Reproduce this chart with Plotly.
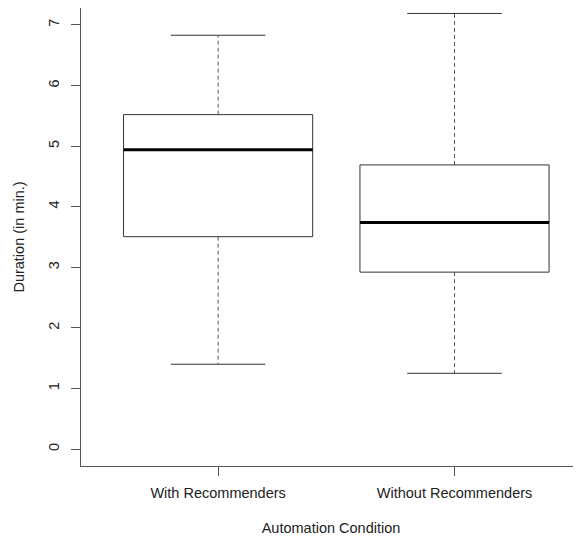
import plotly.graph_objects as go

categories = ["With Recommenders", "Without Recommenders"]
lower_whisker = [1.40, 1.25]
q1 = [3.505, 2.92]
median = [4.94, 3.74]
q3 = [5.52, 4.69]
upper_whisker = [6.83, 7.19]
y_ticks = [0, 1, 2, 3, 4, 5, 6, 7]

BOX_HALF = 0.4
CAP_HALF = 0.2
LINE = "#333333"

fig = go.Figure()
for i, cat in enumerate(categories):
    # whiskers (dashed)
    fig.add_trace(go.Scatter(x=[i, i], y=[q3[i], upper_whisker[i]], mode="lines",
                             line=dict(color="#555555", width=1, dash="4px,3px"),
                             hoverinfo="skip", showlegend=False))
    fig.add_trace(go.Scatter(x=[i, i], y=[q1[i], lower_whisker[i]], mode="lines",
                             line=dict(color="#555555", width=1, dash="4px,3px"),
                             hoverinfo="skip", showlegend=False))
    # caps
    for v in (upper_whisker[i], lower_whisker[i]):
        fig.add_trace(go.Scatter(x=[i - CAP_HALF, i + CAP_HALF], y=[v, v], mode="lines",
                                 line=dict(color=LINE, width=1),
                                 hoverinfo="skip", showlegend=False))
    # box
    fig.add_trace(go.Scatter(
        x=[i - BOX_HALF, i + BOX_HALF, i + BOX_HALF, i - BOX_HALF, i - BOX_HALF],
        y=[q1[i], q1[i], q3[i], q3[i], q1[i]], mode="lines",
        line=dict(color=LINE, width=1), fill="toself", fillcolor="white",
        name=cat, showlegend=False))
    # median
    fig.add_trace(go.Scatter(x=[i - BOX_HALF, i + BOX_HALF], y=[median[i], median[i]],
                             mode="lines", line=dict(color="black", width=3),
                             hoverinfo="skip", showlegend=False))

FAM = "Liberation Sans, Arial, sans-serif"
font = dict(family=FAM, size=14.5, color="#222222")

fig.update_layout(
    width=573, height=530,
    margin=dict(l=73, r=0, t=0, b=72, pad=0),
    paper_bgcolor="white", plot_bgcolor="white",
    font=font,
    showlegend=False,
    xaxis=dict(
        automargin=False,
        range=[-0.58, 1.535], tickmode="array", tickvals=list(range(len(categories))),
        ticktext=categories, ticks="outside", ticklen=9, tickcolor="#555555",
        tickfont=font, ticklabelstandoff=5,
        showline=True, linecolor="#555555", linewidth=1, mirror=True,
        showgrid=False, zeroline=False,
        title=dict(text="Automation Condition", standoff=22, font=font),
    ),
    yaxis=dict(
        automargin=False,
        range=[-0.28, 7.28], tickmode="array", tickvals=y_ticks,
        ticktext=[str(t) for t in y_ticks], tickangle=-90,
        ticks="outside", ticklen=9, tickcolor="#555555",
        tickfont=font, ticklabelstandoff=6,
        showline=True, linecolor="#555555", linewidth=1,
        showgrid=False, zeroline=False,
        title=dict(text="Duration (in min.)", standoff=18, font=font),
    ),
)

fig.write_html("out.html")
